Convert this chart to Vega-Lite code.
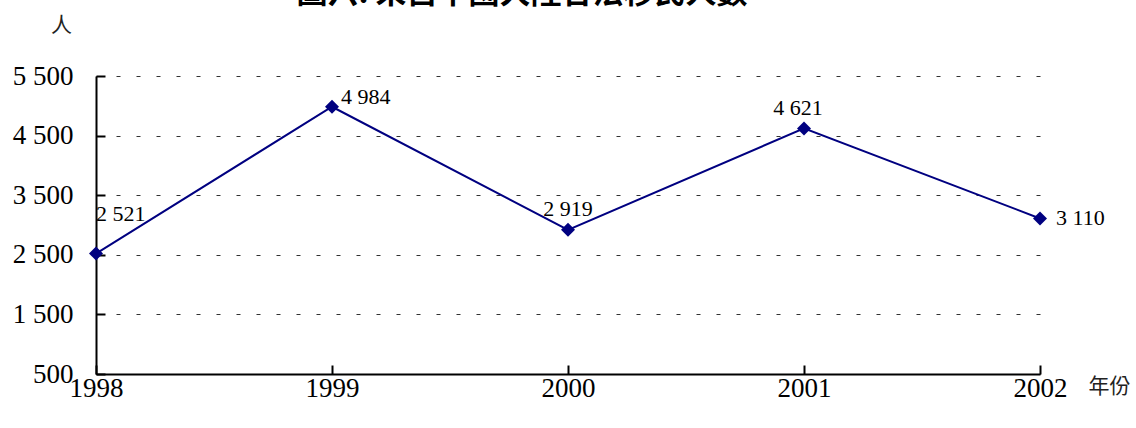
{
  "$schema": "https://vega.github.io/schema/vega-lite/v6.json",
  "width": 944,
  "height": 298,
  "autosize": {"type": "none"},
  "padding": {"left": 96, "top": 76, "right": 96, "bottom": 54},
  "background": "white",
  "config": {
    "view": {"stroke": null},
    "locale": {"number": {"decimal": ".", "thousands": " ", "grouping": [3], "currency": ["", ""]}},
    "axis": {"labelFont": "Liberation Serif", "labelFontSize": 27, "labelColor": "black", "titleFont": "Noto Sans CJK TC", "titleFontWeight": "normal", "titleFontSize": 21, "titleColor": "#222"}
  },
  "title": {
    "text": "圖六. 來自中國大陸合法移民人數",
    "font": "Noto Sans CJK TC",
    "fontSize": 31,
    "fontWeight": "bold",
    "color": "black",
    "frame": "group",
    "anchor": "middle",
    "baseline": "alphabetic",
    "offset": 0,
    "dx": -46,
    "dy": 20
  },
  "data": {"values": [
    {"year": "1998", "value": 2521},
    {"year": "1999", "value": 4984},
    {"year": "2000", "value": 2919},
    {"year": "2001", "value": 4621},
    {"year": "2002", "value": 3110}
  ]},
  "encoding": {
    "x": {"field": "year", "type": "ordinal", "scale": {"type": "point", "padding": 0},
      "axis": {"title": "年份", "titleAngle": 0, "titleX": 1013, "titleY": 12, "titleBaseline": "middle", "titleAlign": "center", "labelAngle": 0, "labelBaseline": "top", "domainColor": "black", "domainWidth": 2, "tickColor": "black", "tickWidth": 2, "tickSize": -9, "labelPadding": 10, "grid": false}},
    "y": {"field": "value", "type": "quantitative", "scale": {"domain": [500, 5500], "nice": false, "zero": false},
      "axis": {"title": "人", "titleAngle": 0, "titleX": -35, "titleY": -51, "titleBaseline": "middle", "titleAlign": "center", "values": [500, 1500, 2500, 3500, 4500, 5500], "format": ",d", "domainColor": "black", "domainWidth": 2, "tickColor": "black", "tickWidth": 2, "tickSize": -9, "labelPadding": 32, "grid": true, "gridColor": "#333", "gridDash": [4, 16], "gridWidth": 1}}
  },
  "layer": [
    {"mark": {"type": "line", "color": "#000080", "strokeWidth": 2}},
    {"mark": {"type": "point", "shape": "diamond", "filled": true, "color": "#000080", "size": 196, "opacity": 1}},
    {"transform": [{"filter": "datum.year == '1998'"}], "mark": {"type": "text", "font": "Liberation Serif", "fontSize": 22, "align": "left", "baseline": "middle", "dx": 0, "dy": -40, "color": "black"}, "encoding": {"text": {"field": "value", "type": "quantitative", "format": ",d"}}},
    {"transform": [{"filter": "datum.year == '1999'"}], "mark": {"type": "text", "font": "Liberation Serif", "fontSize": 22, "align": "left", "baseline": "middle", "dx": 9, "dy": -10, "color": "black"}, "encoding": {"text": {"field": "value", "type": "quantitative", "format": ",d"}}},
    {"transform": [{"filter": "datum.year == '2000'"}], "mark": {"type": "text", "font": "Liberation Serif", "fontSize": 22, "align": "center", "baseline": "middle", "dx": 0, "dy": -21, "color": "black"}, "encoding": {"text": {"field": "value", "type": "quantitative", "format": ",d"}}},
    {"transform": [{"filter": "datum.year == '2001'"}], "mark": {"type": "text", "font": "Liberation Serif", "fontSize": 22, "align": "center", "baseline": "middle", "dx": -6, "dy": -20, "color": "black"}, "encoding": {"text": {"field": "value", "type": "quantitative", "format": ",d"}}},
    {"transform": [{"filter": "datum.year == '2002'"}], "mark": {"type": "text", "font": "Liberation Serif", "fontSize": 22, "align": "left", "baseline": "middle", "dx": 16, "dy": 0, "color": "black"}, "encoding": {"text": {"field": "value", "type": "quantitative", "format": ",d"}}}
  ]
}
